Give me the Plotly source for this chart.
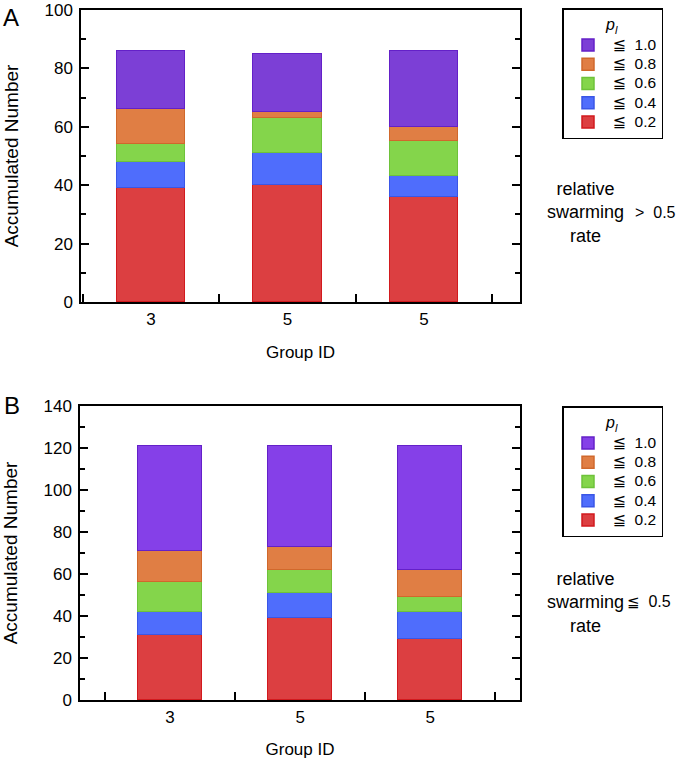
import plotly.graph_objects as go

# ---------------- data ----------------
group_labels = ["3", "5", "5"]
group_pos = [0, 1, 2]

series_values_text = ["0.2", "0.4", "0.6", "0.8", "1.0"]

# Panel A: relative swarming rate > 0.5
a_p02 = [39, 40, 36]
a_p04 = [9, 11, 7]
a_p06 = [6, 12, 12]
a_p08 = [12, 2, 5]
a_p10 = [20, 20, 26]

# Panel B: relative swarming rate <= 0.5
b_p02 = [31, 39, 29]
b_p04 = [11, 12, 13]
b_p06 = [14, 11, 7]
b_p08 = [15, 11, 13]
b_p10 = [50, 48, 59]

fills = ["#DC3F41", "#4F6DFC", "#84D54B", "#E07E44", "#7C3FD6"]
fills_b = ["#DC3F41", "#4F6DFC", "#84D54B", "#E07E44", "#8540E8"]
edges = ["#D21A1E", "#3A56E6", "#6EC23A", "#D0682C", "#6420C8"]

FONT = "Liberation Sans, Noto Sans CJK JP, DejaVu Sans"
W, H = 677, 759

fig = go.Figure()

a_series = [a_p02, a_p04, a_p06, a_p08, a_p10]
b_series = [b_p02, b_p04, b_p06, b_p08, b_p10]


def legend_name(v):
    return ("<span style='font-size:16px;font-family:DejaVu Sans'>≦</span>"
            "<span style='font-size:15.5px'>  " + v + "</span>")


for i, vals in enumerate(a_series):
    fig.add_trace(go.Bar(
        x=group_pos, y=vals, name=legend_name(series_values_text[i]), width=0.5,
        marker=dict(color=fills[i], line=dict(color=edges[i], width=1.5)),
        xaxis="x", yaxis="y", legend="legend", offsetgroup="a",
    ))
for i, vals in enumerate(b_series):
    fig.add_trace(go.Bar(
        x=group_pos, y=vals, name=legend_name(series_values_text[i]), width=0.49,
        marker=dict(color=fills_b[i], line=dict(color=edges[i], width=1.5)),
        xaxis="x2", yaxis="y2", legend="legend2", offsetgroup="b",
    ))


def px_x(p):
    return p / W


def px_y(p):
    return 1 - p / H


xcommon = dict(
    tickmode="array", tickvals=group_pos, ticktext=group_labels,
    ticks="", showline=True, linecolor="black", linewidth=1.5, mirror=True,
    showgrid=False, zeroline=False, ticklabelstandoff=1,
    tickfont=dict(family=FONT, size=17, color="black"),
    minor=dict(tickmode="array", tickvals=[-0.5, 0.5, 1.5, 2.5],
               ticks="inside", ticklen=8, tickwidth=1.5, tickcolor="black"),
    title=dict(text="Group ID", font=dict(family=FONT, size=17, color="black"), standoff=18),
    automargin=False, fixedrange=True,
)
ycommon = dict(
    ticks="inside", ticklen=8, tickwidth=1.5, tickcolor="black",
    showline=True, linecolor="black", linewidth=1.5, mirror="ticks",
    showgrid=False, zeroline=False, ticklabelstandoff=3,
    tickfont=dict(family=FONT, size=17, color="black"),
    minor=dict(dtick=10, ticks="inside", ticklen=5, tickwidth=1.5, tickcolor="black"),
    title=dict(text="Accumulated Number", font=dict(family=FONT, size=19, color="black"), standoff=21),
    automargin=False, fixedrange=True,
)

legend_common = dict(
    xanchor="left", yanchor="top",
    bordercolor="black", borderwidth=1.5, bgcolor="white",
    traceorder="reversed", font=dict(family=FONT, size=12.5, color="black"),
    itemwidth=39,
    title=dict(text="<i>p</i><sub><i>l</i></sub>", side="top center",
               font=dict(family=FONT, size=16, color="black")),
    itemclick=False, itemdoubleclick=False,
)

ann_font = dict(family=FONT, size=18, color="black")
num_font = dict(family=FONT, size=16, color="black")

fig.update_layout(
    width=W, height=H,
    margin=dict(l=0, r=0, t=0, b=0),
    paper_bgcolor="white", plot_bgcolor="white",
    barmode="stack", bargap=0,
    font=dict(family=FONT, color="black"),
    xaxis=dict(xcommon, domain=[px_x(81), px_x(520)], range=[-0.513, 2.703], anchor="y"),
    yaxis=dict(ycommon, domain=[px_y(302), px_y(10)], range=[0, 100], dtick=20, anchor="x"),
    xaxis2=dict(xcommon, domain=[px_x(80), px_x(520)], range=[-0.692, 2.69], anchor="y2"),
    yaxis2=dict(ycommon, domain=[px_y(700), px_y(406)], range=[0, 140], dtick=20, anchor="x2"),
    legend=dict(legend_common, x=px_x(562), y=px_y(8)),
    legend2=dict(legend_common, x=px_x(562), y=px_y(406)),
    annotations=[
        dict(text="A", x=px_x(11), y=px_y(18), xref="paper", yref="paper",
             xanchor="center", yanchor="middle",
             showarrow=False, font=dict(family=FONT, size=24, color="black")),
        dict(text="B", x=px_x(12), y=px_y(405), xref="paper", yref="paper",
             xanchor="center", yanchor="middle",
             showarrow=False, font=dict(family=FONT, size=24, color="black")),
        dict(text="relative<br>swarming<br>rate", x=px_x(585), y=px_y(213),
             xref="paper", yref="paper", xanchor="center", yanchor="middle",
             showarrow=False, align="center", font=ann_font),
        dict(text="&gt;  0.5",
             x=px_x(633), y=px_y(213), xref="paper", yref="paper",
             xanchor="left", yanchor="middle", showarrow=False, font=num_font),
        dict(text="relative<br>swarming<br>rate", x=px_x(585), y=px_y(602),
             xref="paper", yref="paper", xanchor="center", yanchor="middle",
             showarrow=False, align="center", font=ann_font),
        dict(text="<span style='font-family:DejaVu Sans;font-size:15px'>≦</span>  0.5",
             x=px_x(625), y=px_y(602), xref="paper", yref="paper",
             xanchor="left", yanchor="middle", showarrow=False, font=num_font),
    ],
)

fig.write_html("out.html", config={"displayModeBar": False},
               post_script="document.body.style.margin='0px';")
